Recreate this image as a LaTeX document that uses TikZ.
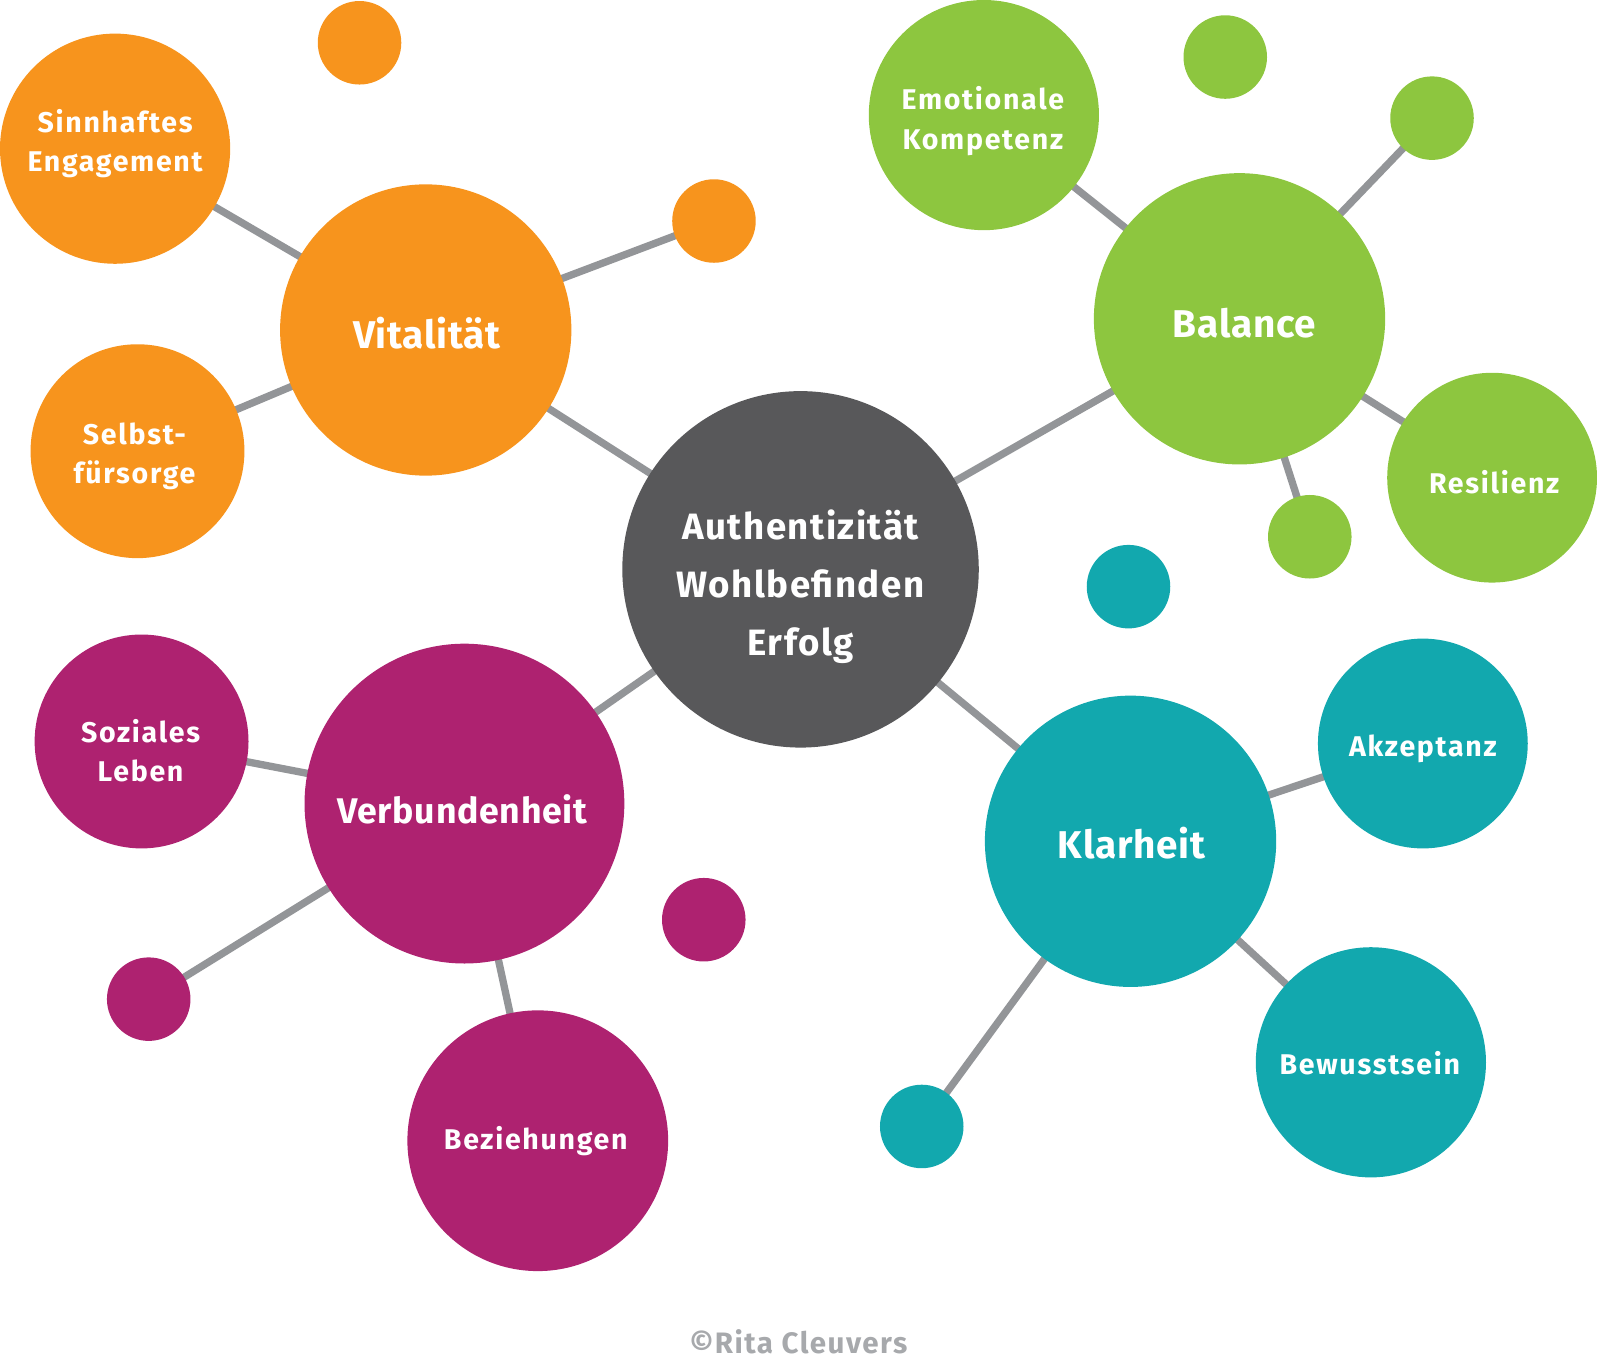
\documentclass[tikz,border=0pt]{standalone}
\usepackage{fontspec}
\setmainfont{Fira Sans}
\usetikzlibrary{backgrounds}
\definecolor{corange}{HTML}{F7941D}
\definecolor{cgreen}{HTML}{8DC63F}
\definecolor{cteal}{HTML}{12A8AE}
\definecolor{cmag}{HTML}{AE2270}
\definecolor{cdark}{HTML}{58585A}
\definecolor{cline}{HTML}{939598}
\definecolor{ccopy}{HTML}{A7A9AC}
\tikzset{
  bub/.style={circle, draw=none, inner sep=0pt},
  bigtxt/.style={text=white, inner sep=0pt, align=center, font=\bfseries\fontsize{19}{23}\selectfont\addfontfeatures{LetterSpace=2}},
  smalltxt/.style={text=white, inner sep=0pt, align=center, font=\bfseries\fontsize{14}{19.5}\selectfont\addfontfeatures{LetterSpace=6}},
  coretxt/.style={text=white, inner sep=0pt, align=center, font=\bfseries\fontsize{18}{28.5}\selectfont\addfontfeatures{LetterSpace=4}},
  link/.style={draw=cline, line width=3.6pt},
}
\begin{document}
\begin{tikzpicture}[x=0.5pt,y=-0.5pt]
\useasboundingbox (0,0) rectangle (1568,1338);
% center
\node[bub, fill=cdark, minimum size=175pt] (core) at (786,559) {};
\node[coretxt] (coreT) at (786,576) {Authentizität\\Wohlbefinden\\Erfolg};
% orange
\node[bub, fill=corange, minimum size=143pt] (vit) at (418,324) {};
\node[bigtxt] (vitT) at (419,327) {Vitalität};
\node[bub, fill=corange, minimum size=113pt] (sinn) at (113,146) {};
\node[smalltxt] (sinnT) at (113,141) {Sinnhaftes\\Engagement};
\node[bub, fill=corange, minimum size=105pt] (selbst) at (135,443) {};
\node[smalltxt] (selbstT) at (132,448) {Selbst-\\fürsorge};
\node[bub, fill=corange, minimum size=41pt] (o1) at (353,42) {};
\node[bub, fill=corange, minimum size=41pt] (o2) at (701,217) {};
% green
\node[bub, fill=cgreen, minimum size=143pt] (bal) at (1217,313) {};
\node[bigtxt] (balT) at (1222,317) {Balance};
\node[bub, fill=cgreen, minimum size=113pt] (emo) at (966,113) {};
\node[smalltxt] (emoT) at (965,119) {Emotionale\\Kompetenz};
\node[bub, fill=cgreen, minimum size=103pt] (res) at (1465,469) {};
\node[smalltxt] (resT) at (1467,473) {Resilienz};
\node[bub, fill=cgreen, minimum size=41pt] (g1) at (1203,56) {};
\node[bub, fill=cgreen, minimum size=41pt] (g2) at (1406,116) {};
\node[bub, fill=cgreen, minimum size=41pt] (g3) at (1286,527) {};
% teal
\node[bub, fill=cteal, minimum size=143pt] (kla) at (1110,826) {};
\node[bigtxt] (klaT) at (1111,828) {Klarheit};
\node[bub, fill=cteal, minimum size=103pt] (akz) at (1397,730) {};
\node[smalltxt] (akzT) at (1397,735) {Akzeptanz};
\node[bub, fill=cteal, minimum size=113pt] (bew) at (1346,1043) {};
\node[smalltxt] (bewT) at (1345,1044) {Bewusstsein};
\node[bub, fill=cteal, minimum size=41pt] (t1) at (905,1106) {};
\node[bub, fill=cteal, minimum size=41pt] (t2) at (1108,576) {};
% magenta
\node[bub, fill=cmag, minimum size=157pt] (ver) at (456,789) {};
\node[bigtxt, font=\bfseries\fontsize{17.5}{23}\selectfont\addfontfeatures{LetterSpace=2}] (verT) at (454,795) {Verbundenheit};
\node[bub, fill=cmag, minimum size=105pt] (soz) at (139,728) {};
\node[smalltxt] (sozT) at (138,737) {Soziales\\Leben};
\node[bub, fill=cmag, minimum size=128pt] (bez) at (528,1120) {};
\node[smalltxt] (bezT) at (526,1120) {Beziehungen};
\node[bub, fill=cmag, minimum size=41pt] (m1) at (146,981) {};
\node[bub, fill=cmag, minimum size=41pt] (m2) at (691,903) {};
% copyright
\node[text=ccopy, inner sep=0pt, font=\bfseries\fontsize{14.5}{16}\selectfont\addfontfeatures{LetterSpace=5}] (copy) at (784,1317) {©Rita Cleuvers};
\begin{scope}[on background layer]
\draw[link] (core.center) -- (vit.center);
\draw[link] (core.center) -- (bal.center);
\draw[link] (core.center) -- (ver.center);
\draw[link] (core.center) -- (kla.center);
\draw[link] (vit.center) -- (sinn.center);
\draw[link] (vit.center) -- (selbst.center);
\draw[link] (vit.center) -- (o2.center);
\draw[link] (bal.center) -- (emo.center);
\draw[link] (bal.center) -- (g2.center);
\draw[link] (bal.center) -- (res.center);
\draw[link] (bal.center) -- (g3.center);
\draw[link] (kla.center) -- (akz.center);
\draw[link] (kla.center) -- (bew.center);
\draw[link] (kla.center) -- (t1.center);
\draw[link] (ver.center) -- (soz.center);
\draw[link] (ver.center) -- (m1.center);
\draw[link] (ver.center) -- (bez.center);
\end{scope}
\end{tikzpicture}
\end{document}
